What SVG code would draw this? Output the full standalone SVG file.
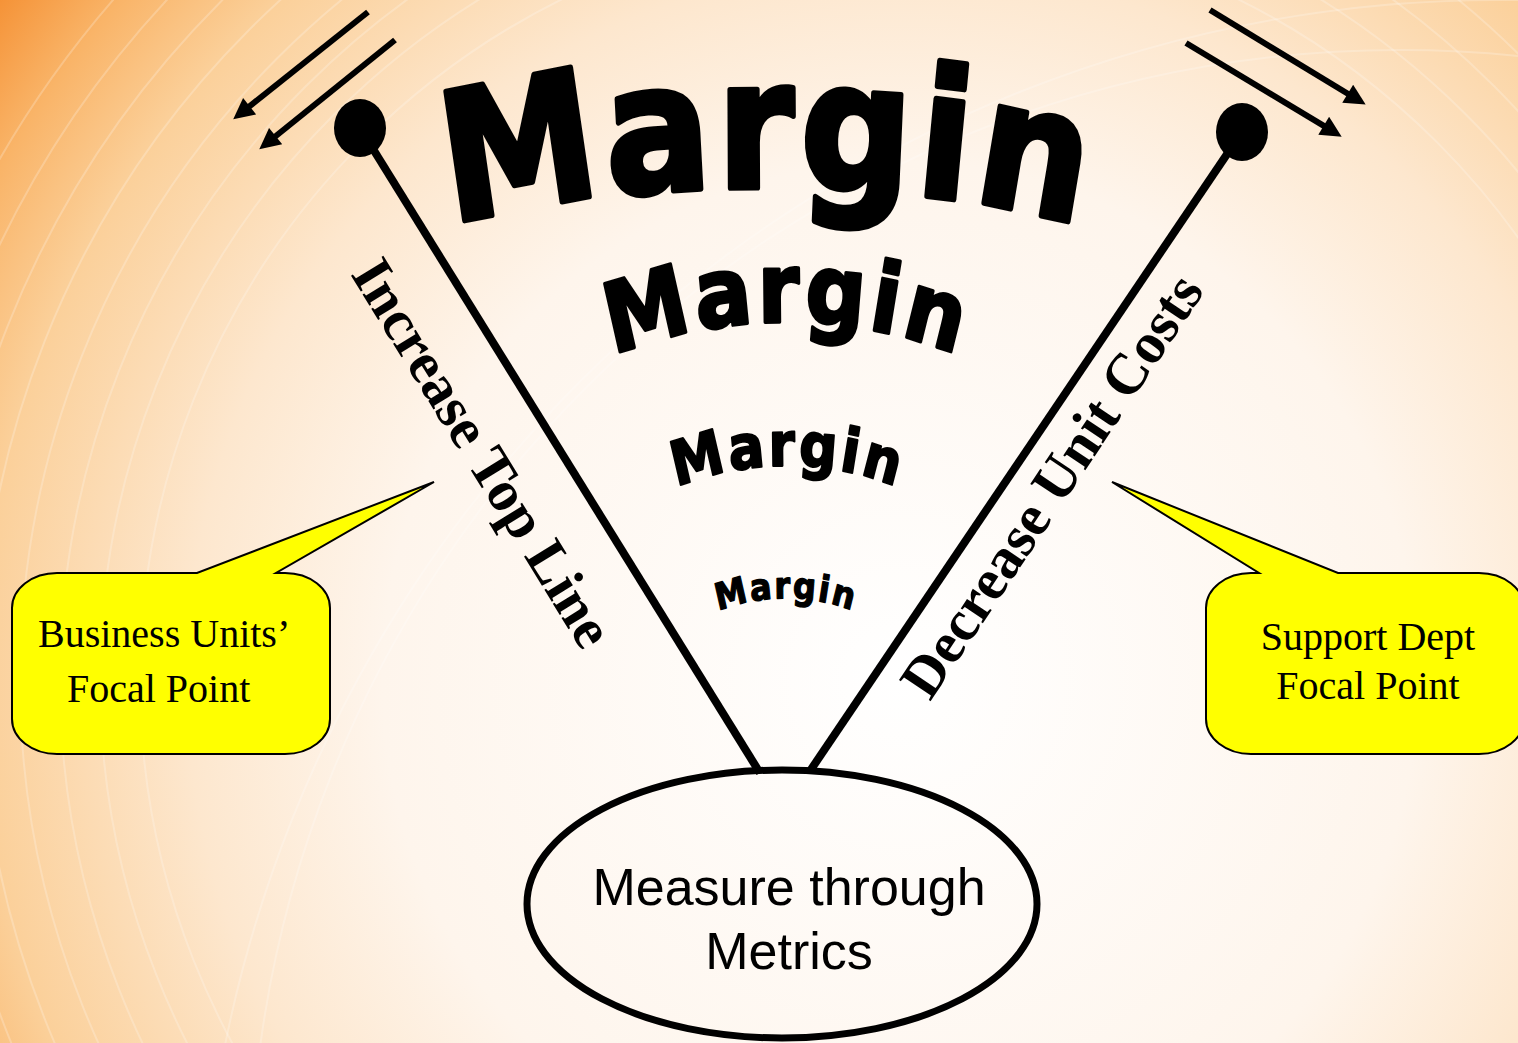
<svg xmlns="http://www.w3.org/2000/svg" width="1518" height="1043" viewBox="0 0 1518 1043">
  <defs>
    <radialGradient id="bg" gradientUnits="userSpaceOnUse" cx="900" cy="680" r="1150">
      <stop offset="0" stop-color="#FFFFFF"/>
      <stop offset="0.45" stop-color="#FEF5EC"/>
      <stop offset="0.62" stop-color="#FDE7CE"/>
      <stop offset="0.8" stop-color="#FBD09A"/>
      <stop offset="0.9" stop-color="#F9B468"/>
      <stop offset="1" stop-color="#F48B2C"/>
    </radialGradient>
    <marker id="ah" viewBox="0 0 10 10" refX="1" refY="5" markerWidth="4" markerHeight="3.5" orient="auto" markerUnits="strokeWidth">
      <path d="M0,0 L10,5 L0,10 z" fill="#000"/>
    </marker>
    <path id="arc1" d="M445,200 C605,151 930,151 1090,200"/>
    <path id="arc2" d="M612,310 C726,270 848,270 962,310"/>
    <path id="arc3" d="M672,426 C741,398 834,398 903,426"/>
    <path id="arc4" d="M715,533 C758,516 814,516 857,533"/>
  </defs>
  <style>
    .margin { font-family: "DejaVu Sans", "Liberation Sans", sans-serif; font-weight: bold; fill: #000; stroke: #000; stroke-linejoin: round; }
    .stick { stroke: #000; stroke-width: 8; fill: none; }
    .arrow { stroke: #000; stroke-width: 6; fill: none; marker-end: url(#ah); }
    .side { font-family: "Liberation Serif", "Times New Roman", serif; font-weight: bold; font-size: 58px; fill: #000; }
    .callout { fill: #FFFF00; stroke: #000; stroke-width: 2; stroke-linejoin: miter; }
    .ctext { font-family: "Liberation Serif", "Times New Roman", serif; font-size: 40px; fill: #000; }
    .mtext { font-family: "Liberation Sans", Arial, sans-serif; font-size: 52px; fill: #000; text-anchor: middle; }
    .ripple { fill: none; stroke: #FFFFFF; stroke-opacity: 0.22; stroke-width: 2; }
  </style>

  <rect x="0" y="0" width="1518" height="1043" fill="url(#bg)"/>
  <g id="ripples">
    <circle class="ripple" cx="900" cy="680" r="760"/>
    <circle class="ripple" cx="900" cy="680" r="800"/>
    <circle class="ripple" cx="900" cy="680" r="840"/>
    <circle class="ripple" cx="900" cy="680" r="880"/>
    <circle class="ripple" cx="900" cy="680" r="920"/>
    <circle class="ripple" cx="900" cy="680" r="960"/>
    <circle class="ripple" cx="900" cy="680" r="1000"/>
    <circle class="ripple" cx="900" cy="680" r="1040"/>
    <circle class="ripple" cx="1400" cy="1200" r="1150"/>
    <circle class="ripple" cx="1500" cy="1300" r="1300"/>
  </g>

  <g id="connectors">
    <line class="stick" x1="360" y1="128" x2="760" y2="773"/>
    <line class="stick" x1="1242" y1="132" x2="810" y2="771"/>
    <line class="arrow" x1="368" y1="12" x2="248" y2="107.5"/>
    <line class="arrow" x1="395" y1="40" x2="274" y2="137.5"/>
    <line class="arrow" x1="1210" y1="10" x2="1349.5" y2="94.8"/>
    <line class="arrow" x1="1186" y1="43" x2="1325.5" y2="126.9"/>
  </g>

  <g id="ball-left">
    <ellipse cx="360" cy="128" rx="26" ry="29" fill="#000"/>
  </g>
  <g id="ball-right">
    <ellipse cx="1242" cy="132" rx="26" ry="29" fill="#000"/>
  </g>

  <g id="margin-words" transform="scale(1,1.15)">
    <text class="margin" font-size="156" stroke-width="5" letter-spacing="4" text-anchor="middle"><textPath href="#arc1" startOffset="50%">Margin</textPath></text>
    <text class="margin" font-size="84" stroke-width="3" letter-spacing="4" text-anchor="middle"><textPath href="#arc2" startOffset="50%">Margin</textPath></text>
    <text class="margin" font-size="53" stroke-width="2" letter-spacing="3" text-anchor="middle"><textPath href="#arc3" startOffset="50%">Margin</textPath></text>
    <text class="margin" font-size="32" stroke-width="1.2" letter-spacing="2" text-anchor="middle"><textPath href="#arc4" startOffset="50%">Margin</textPath></text>
  </g>

  <g id="label-increase">
    <text class="side" transform="translate(350,274) rotate(58.4)">Increase Top Line</text>
  </g>
  <g id="label-decrease">
    <text class="side" transform="translate(930,702) rotate(-56.2)">Decrease Unit Costs</text>
  </g>

  <g id="callout-business">
    <path class="callout" d="M57,573 L197,573 L434,482 L276,573 L285,573 A45,35 0 0 1 330,608 L330,719 A45,35 0 0 1 285,754 L57,754 A45,35 0 0 1 12,719 L12,608 A45,35 0 0 1 57,573 Z"/>
    <text class="ctext" x="38" y="647">Business Units’</text>
    <text class="ctext" x="67" y="702">Focal Point</text>
  </g>

  <g id="callout-support">
    <path class="callout" d="M1251,573 L1259,573 L1112,482 L1338,573 L1479,573 A45,35 0 0 1 1524,608 L1524,719 A45,35 0 0 1 1479,754 L1251,754 A45,35 0 0 1 1206,719 L1206,608 A45,35 0 0 1 1251,573 Z"/>
    <text class="ctext" x="1368" y="650" text-anchor="middle">Support Dept</text>
    <text class="ctext" x="1368" y="699" text-anchor="middle">Focal Point</text>
  </g>

  <g id="measure">
    <ellipse cx="782" cy="904" rx="255" ry="134" fill="none" stroke="#000" stroke-width="7"/>
    <text class="mtext" x="789" y="905">Measure through</text>
    <text class="mtext" x="789" y="969">Metrics</text>
  </g>
</svg>
